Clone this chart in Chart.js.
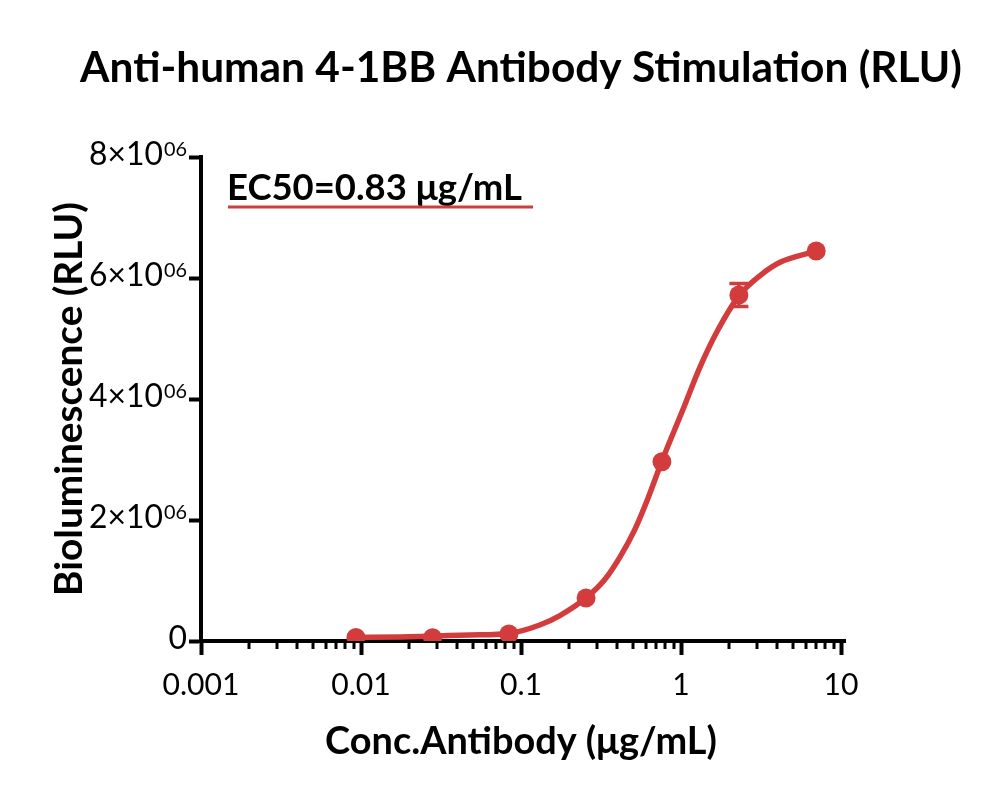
<!DOCTYPE html>
<html><head><meta charset="utf-8">
<script src="https://cdn.jsdelivr.net/npm/chart.js@4.4.0/dist/chart.umd.min.js"></script>
<style>html,body{margin:0;padding:0;background:#fff}canvas{display:block}</style>
</head><body>
<canvas id="c" width="1000" height="797"></canvas>
<script>
// ---- data ----
const conc = [0.0093, 0.028, 0.084, 0.255, 0.76, 2.3, 7.0];           // µg/mL
const rlu = [0.058e6, 0.053e6, 0.116e6, 0.711e6, 2.964e6, 5.719e6, 6.446e6];
const rluErr = [0, 0, 0, 0, 0, 0.19e6, 0];
const fitConc = [0.0093, 0.0175, 0.028, 0.048, 0.084, 0.131, 0.175, 0.255, 0.335, 0.416, 0.516, 0.622, 0.76, 1.03, 1.31, 1.70, 2.30, 3.12, 4.16, 7.0];
const fitRlu = [0.058e6, 0.066e6, 0.080e6, 0.100e6, 0.125e6, 0.264e6, 0.420e6, 0.711e6, 1.020e6, 1.390e6, 1.850e6, 2.360e6, 2.975e6, 3.830e6, 4.520e6, 5.140e6, 5.702e6, 6.040e6, 6.260e6, 6.446e6];
const xTickValues = [0.001, 0.01, 0.1, 1, 10];
const xTickLabels = ['0.001', '0.01', '0.1', '1', '10'];
const yTickValues = [0, 2e6, 4e6, 6e6, 8e6];
const yTickLabels = ['0', '2×10', '4×10', '6×10', '8×10'];
const yTickExp = ['', '06', '06', '06', '06'];
const titleText = 'Anti-human 4-1BB Antibody Stimulation (RLU)';
const xTitle = 'Conc.Antibody (μg/mL)';
const yTitle = 'Bioluminescence (RLU)';
const ec50Label = 'EC50=0.83 μg/mL';

// ---- styling ----
const FONT = 'Lato';
const RED = 'rgb(210,60,60)';
const mctx = document.createElement('canvas').getContext('2d');
function fitSize(text, weight, target) {
  mctx.font = weight + ' 100px ' + FONT;
  return 100 * target / mctx.measureText(text).width;
}
const titleSize = fitSize(titleText, 'bold', 882);
const xTitleSize = fitSize(xTitle, 'bold', 392);
const yTitleSize = fitSize(yTitle, 'bold', 394);
const tickSize = fitSize('0.001', 'normal', 77);
const yLabSize = fitSize('8×10', 'normal', 74);
const supSize = yLabSize * 0.62;
const ecSize = fitSize(ec50Label, 'bold', 295);

const decorPlugin = {
  id: 'decor',
  afterDraw(chart) {
    const ctx = chart.ctx;
    const xs = chart.scales.x, ys = chart.scales.y;
    const area = chart.chartArea;
    ctx.save();
    // chart title
    ctx.fillStyle = '#000';
    ctx.font = 'bold ' + titleSize + 'px ' + FONT;
    ctx.textAlign = 'center';
    ctx.textBaseline = 'middle';
    ctx.fillText(titleText, 521, 68);
    // minor x ticks
    ctx.strokeStyle = '#000';
    ctx.lineWidth = 3;
    for (let d = 0; d < xTickValues.length - 1; d++) {
      for (let k = 2; k <= 9; k++) {
        const px = Math.round(xs.getPixelForValue(xTickValues[d] * k));
        ctx.beginPath();
        ctx.moveTo(px, area.bottom);
        ctx.lineTo(px, area.bottom + 8);
        ctx.stroke();
      }
    }
    // extend x axis line slightly past last tick like the reference
    ctx.lineWidth = 4;
    ctx.beginPath();
    ctx.moveTo(area.right - 2, area.bottom);
    ctx.lineTo(area.right + 5, area.bottom);
    ctx.stroke();
    // y tick labels with superscript exponent
    ctx.font = yLabSize + 'px ' + FONT;
    const dh = ctx.measureText('8').actualBoundingBoxAscent;
    ctx.font = supSize + 'px ' + FONT;
    const sdh = ctx.measureText('0').actualBoundingBoxAscent;
    const rightX = 187;
    yTickValues.forEach((v, i) => {
      const py = ys.getPixelForValue(v);
      const baseY = py + dh / 2 + 1;
      ctx.font = supSize + 'px ' + FONT;
      const ws = yTickExp[i] ? ctx.measureText(yTickExp[i]).width + 1 : 0;
      ctx.textAlign = 'right';
      ctx.textBaseline = 'alphabetic';
      if (yTickExp[i]) {
        ctx.fillText(yTickExp[i], rightX, baseY - dh - 3 + sdh);
      }
      ctx.font = yLabSize + 'px ' + FONT;
      ctx.fillText(yTickLabels[i], rightX - ws, baseY);
    });
    // EC50 annotation
    ctx.font = 'bold ' + ecSize + 'px ' + FONT;
    ctx.textAlign = 'left';
    ctx.textBaseline = 'middle';
    ctx.fillText(ec50Label, 227, 188);
    ctx.strokeStyle = RED;
    ctx.lineWidth = 3;
    ctx.beginPath();
    ctx.moveTo(228, 207);
    ctx.lineTo(533, 207);
    ctx.stroke();
    ctx.restore();
  },
  afterDatasetsDraw(chart) {
    const ctx = chart.ctx;
    const xs = chart.scales.x, ys = chart.scales.y;
    ctx.save();
    ctx.strokeStyle = RED;
    ctx.lineWidth = 3.5;
    conc.forEach((c, i) => {
      if (!rluErr[i]) return;
      const px = xs.getPixelForValue(c);
      const top = ys.getPixelForValue(rlu[i] + rluErr[i]);
      const bot = ys.getPixelForValue(rlu[i] - rluErr[i]);
      ctx.beginPath();
      ctx.moveTo(px, top); ctx.lineTo(px, bot);
      ctx.moveTo(px - 9.5, top); ctx.lineTo(px + 9.5, top);
      ctx.moveTo(px - 9.5, bot); ctx.lineTo(px + 9.5, bot);
      ctx.stroke();
    });
    ctx.restore();
  }
};

new Chart(document.getElementById('c'), {
  type: 'scatter',
  data: {
    datasets: [
      {
        label: 'Mean',
        data: conc.map((x, i) => ({ x: x, y: rlu[i] })),
        backgroundColor: RED, borderColor: RED,
        pointRadius: 9.5, pointHoverRadius: 9.5, pointBorderWidth: 0,
        showLine: false
      },
      {
        label: '4PL fit',
        data: fitConc.map((x, i) => ({ x: x, y: fitRlu[i] })),
        borderColor: RED, backgroundColor: RED,
        borderWidth: 5.5, pointRadius: 0, showLine: true,
        cubicInterpolationMode: 'monotone', fill: false, borderCapStyle: 'round'
      }
    ]
  },
  options: {
    responsive: false, animation: false, events: [],
    layout: { padding: { left: 0, right: 159, top: 157, bottom: 0 } },
    plugins: {
      legend: { display: false },
      tooltip: { enabled: false },
      title: { display: false, text: titleText }
    },
    scales: {
      x: {
        type: 'logarithmic', min: 0.001, max: 10, position: 'bottom',
        afterBuildTicks: s => { s.ticks = xTickValues.map(v => ({ value: v, major: true })); },
        afterFit: s => { s.height = 797 - 641; },
        ticks: {
          autoSkip: false, maxRotation: 0, minRotation: 0, padding: 12, color: '#000',
          font: { family: FONT, size: tickSize },
          callback: (v, i) => xTickLabels[i]
        },
        grid: { drawOnChartArea: false, drawTicks: true, tickLength: 14, tickWidth: 4, tickColor: '#000', color: '#000' },
        border: { display: true, color: '#000', width: 4 },
        title: {
          display: true, text: xTitle, color: '#000',
          font: { family: FONT, weight: 'bold', size: xTitleSize, lineHeight: 1.2 },
          padding: { top: 0, bottom: 55 - 0.6 * xTitleSize }
        }
      },
      y: {
        type: 'linear', min: 0, max: 8e6, position: 'left',
        afterBuildTicks: s => { s.ticks = yTickValues.map(v => ({ value: v })); },
        afterFit: s => { s.width = 201; },
        ticks: { display: false },
        grid: { drawOnChartArea: false, drawTicks: true, tickLength: 12, tickWidth: 4, tickColor: '#000', color: '#000' },
        border: { display: true, color: '#000', width: 4 },
        title: {
          display: true, text: yTitle, color: '#000',
          font: { family: FONT, weight: 'bold', size: yTitleSize, lineHeight: 1.2 },
          padding: { top: 70 - 0.6 * yTitleSize, bottom: 0 }
        }
      }
    }
  },
  plugins: [decorPlugin]
});
</script>
</body></html>
